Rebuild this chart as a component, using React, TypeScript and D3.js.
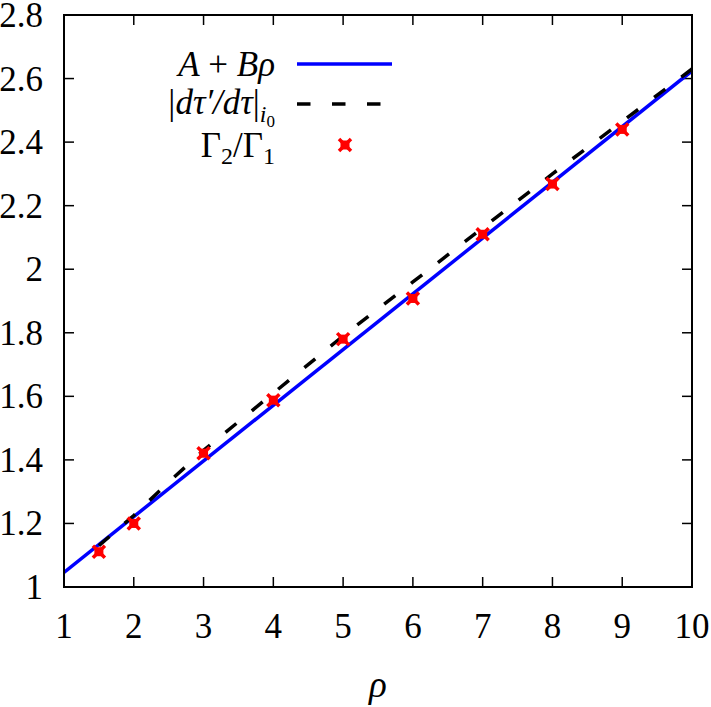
import React from "react";
import * as d3 from "d3";

// axis ticks
const rhoTicks = [1, 2, 3, 4, 5, 6, 7, 8, 9, 10];
const rhoTickLabels = ["1", "2", "3", "4", "5", "6", "7", "8", "9", "10"];
const valTicks = [1, 1.2, 1.4, 1.6, 1.8, 2, 2.2, 2.4, 2.6, 2.8];
const valTickLabels = ["1", "1.2", "1.4", "1.6", "1.8", "2", "2.2", "2.4", "2.6", "2.8"];

// A + B rho (fit line)
const fitRho = [1, 10];
const fitVal = [1.046, 2.624];

// |dtau'/dtau| at i0 (dashed)
const derivRho = [1.5, 2, 2.5, 3, 4, 5, 6, 7, 8, 9, 10];
const derivVal = [1.13, 1.225, 1.33, 1.43, 1.61, 1.79, 1.96, 2.13, 2.3, 2.465, 2.63];

// Gamma2 / Gamma1 points
const ratioRho = [1.5, 2, 3, 4, 5, 6, 7, 8, 9];
const ratioVal = [1.111, 1.2, 1.421, 1.588, 1.78, 1.908, 2.11, 2.268, 2.44];

const W = 711;
const H = 707;
const left = 64;
const right = 692;
const top = 15;
const bottom = 587;
const font = "Liberation Serif, Times New Roman, DejaVu Serif, serif";
const fs = 35;

function Marker({ x, y }: { x: number; y: number }) {
  return (
    <g transform={`translate(${x},${y})`}>
      <rect x={-4.5} y={-4.5} width={9} height={9} fill="#ff0000" />
      <path d="M-6,-6L6,6M-6,6L6,-6" stroke="#ff0000" strokeWidth={3.5} />
    </g>
  );
}

export default function App() {
  const x = d3.scaleLinear().domain([1, 10]).range([left, right]);
  const y = d3.scaleLinear().domain([1, 2.8]).range([bottom, top]);

  const line = d3
    .line<[number, number]>()
    .x((d) => x(d[0]))
    .y((d) => y(d[1]));

  const fitPath = line(fitRho.map((r, i) => [r, fitVal[i]]) as [number, number][]);
  const derivPath = line(derivRho.map((r, i) => [r, derivVal[i]]) as [number, number][]);

  const tickLen = 10;
  const txt = { fontFamily: font };

  return (
    <svg
      width={W}
      height={H}
      style={{ position: "absolute", left: 0, top: 0, background: "#fff", fontFamily: font }}
    >
      <defs>
        <clipPath id="plot">
          <rect x={left} y={top} width={right - left} height={bottom - top} />
        </clipPath>
      </defs>

      {/* ticks */}
      {rhoTicks.map((t, i) => (
        <g key={"xt" + i}>
          <line x1={x(t)} x2={x(t)} y1={bottom} y2={bottom - tickLen} stroke="#000" strokeWidth={1.5} />
          <line x1={x(t)} x2={x(t)} y1={top} y2={top + tickLen} stroke="#000" strokeWidth={1.5} />
          <text x={x(t)} y={638} fontSize={fs} textAnchor="middle" style={txt}>
            {rhoTickLabels[i]}
          </text>
        </g>
      ))}
      {valTicks.map((t, i) => (
        <g key={"yt" + i}>
          <line x1={left} x2={left + tickLen} y1={y(t)} y2={y(t)} stroke="#000" strokeWidth={1.5} />
          <line x1={right} x2={right - tickLen} y1={y(t)} y2={y(t)} stroke="#000" strokeWidth={1.5} />
          <text x={43} y={y(t) + 12} fontSize={fs} textAnchor="end" style={txt}>
            {valTickLabels[i]}
          </text>
        </g>
      ))}

      {/* series */}
      <g clipPath="url(#plot)">
        <path d={fitPath || ""} fill="none" stroke="#0000ff" strokeWidth={3.5} />
        <path d={derivPath || ""} fill="none" stroke="#000" strokeWidth={3.5} strokeDasharray="14,20" />
        {ratioRho.map((r, i) => (
          <Marker key={"p" + i} x={x(r)} y={y(ratioVal[i])} />
        ))}
      </g>

      {/* frame */}
      <rect x={left} y={top} width={right - left} height={bottom - top} fill="none" stroke="#000" strokeWidth={2} />

      {/* legend */}
      <text x={275} y={76} fontSize={fs} textAnchor="end" style={txt}>
        <tspan fontStyle="italic">A</tspan>
        <tspan> + </tspan>
        <tspan fontStyle="italic">Bρ</tspan>
      </text>
      <line x1={297} x2={392} y1={64} y2={64} stroke="#0000ff" strokeWidth={3.5} />

      <text x={275} y={114} fontSize={fs} textAnchor="end" style={txt}>
        <tspan>|</tspan>
        <tspan fontStyle="italic">dτ′/dτ</tspan>
        <tspan>|</tspan>
        <tspan fontStyle="italic" fontSize={24} dy={8}>i</tspan>
        <tspan fontSize={17} dy={5}>0</tspan>
      </text>
      <line x1={297} x2={392} y1={104} y2={104} stroke="#000" strokeWidth={3.5} strokeDasharray="13.5,21.5" />

      <text x={275} y={157} fontSize={fs} textAnchor="end" style={txt}>
        <tspan>Γ</tspan>
        <tspan fontSize={24} dy={7}>2</tspan>
        <tspan dy={-7}>/Γ</tspan>
        <tspan fontSize={24} dy={7}>1</tspan>
      </text>
      <Marker x={345} y={145} />

      {/* axis label */}
      <text x={378} y={697} fontSize={fs + 2} fontStyle="italic" textAnchor="middle" style={txt}>
        ρ
      </text>
    </svg>
  );
}
